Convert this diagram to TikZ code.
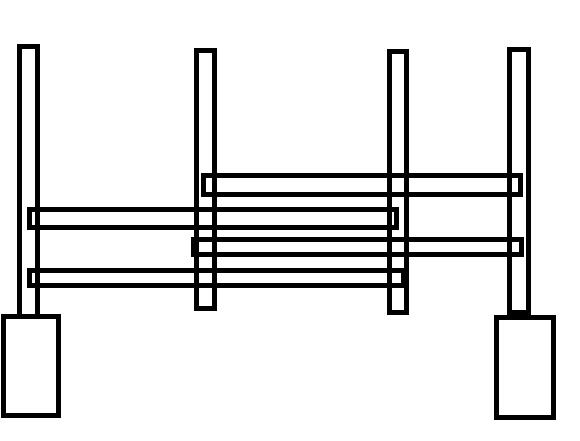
\documentclass[tikz,border=0pt]{standalone}
\begin{document}
\begin{tikzpicture}[x=1pt,y=-1pt,line width=4.8pt,
  part/.style={draw=black,line join=miter}]
\useasboundingbox (0,0) rectangle (580,441);
% posts
\draw[part] (19.5,46.5) rectangle (37.5,316.5);
\draw[part] (196.5,50.5) rectangle (214.5,308.5);
\draw[part] (389.8,51.8) rectangle (406.2,312.5);
\draw[part] (509.8,49.2) rectangle (528.2,312.5);
% feet
\draw[part] (3.5,316.5) rectangle (58.5,415.5);
\draw[part] (496.5,317.5) rectangle (553.5,417.2);
% bars
\draw[part] (203.5,175.2) rectangle (520.8,194.8);
\draw[part] (29.8,209.2) rectangle (396.5,227.5);
\draw[part] (193.5,239.8) rectangle (521.5,254.2);
\draw[part] (29.8,270.8) rectangle (403,285.2);
\end{tikzpicture}
\end{document}
